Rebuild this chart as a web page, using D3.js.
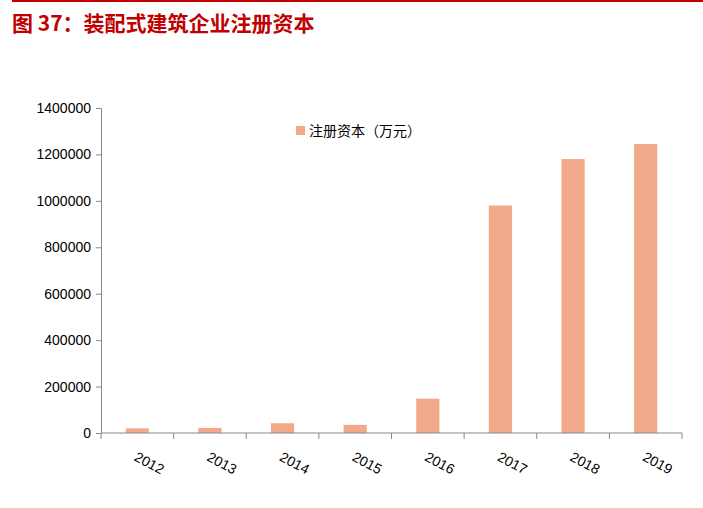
<!DOCTYPE html><html><head><meta charset="utf-8"><script src="https://cdn.jsdelivr.net/npm/d3@7"></script>
<style>body{margin:0;background:#fff}</style></head><body><svg id="c" width="703" height="508"></svg>
<script>
const categories=["2012","2013","2014","2015","2016","2017","2018","2019"];
const values=[20000,22000,42000,35000,148000,980000,1180000,1245000];
const yTicks=[0,200000,400000,600000,800000,1000000,1200000,1400000];
const seriesName="注册资本（万元）";
const svg=d3.select("#c");
const font="Arial, 'Liberation Sans', 'Noto Sans CJK SC', sans-serif";
svg.append("line").attr("x1",12).attr("x2",703).attr("y1",1).attr("y2",1).attr("stroke","#c00000").attr("stroke-width",2);
svg.append("text").attr("x",12).attr("y",31).attr("fill","#c00000").attr("font-size",21).attr("font-weight","bold").attr("font-family","'Noto Sans CJK SC', sans-serif").text("图 37：装配式建筑企业注册资本");
const x=d3.scaleBand().domain(categories).range([101,682]).paddingInner(0.68).paddingOuter(0.34);
const y=d3.scaleLinear().domain([0,1400000]).range([433,108]);
svg.selectAll("rect.b").data(values).enter().append("rect").attr("x",(d,i)=>x(categories[i])).attr("width",x.bandwidth()).attr("y",d=>y(d)).attr("height",d=>433-y(d)).attr("fill","#f2a98a");
const ya=svg.append("g").attr("transform","translate(101,0)").call(d3.axisLeft(y).tickValues(yTicks).tickFormat(d3.format("d")).tickSizeOuter(0).tickSize(5));
ya.selectAll("text").attr("font-size",14).attr("font-family",font).attr("fill","#000").attr("dx","-2");
ya.selectAll("line,path").attr("stroke","#888");
const step=(682-101)/categories.length;
const xa=svg.append("g").attr("transform","translate(0,433)");
xa.append("line").attr("x1",101).attr("x2",682).attr("stroke","#888");
d3.range(categories.length+1).forEach(i=>xa.append("line").attr("x1",101+i*step).attr("x2",101+i*step).attr("y2",6).attr("stroke","#888"));
categories.forEach((c,i)=>{
 const cx=x(c)+x.bandwidth()/2;
 xa.append("text").attr("transform",`translate(${cx-4},${27}) rotate(28)`).attr("font-size",14).attr("font-family",font).attr("fill","#000").text(c);
});
svg.append("rect").attr("x",296).attr("y",126).attr("width",9).attr("height",9).attr("fill","#f2a98a");
svg.append("text").attr("x",309).attr("y",136).attr("font-size",14).attr("font-family","'Noto Sans CJK SC', sans-serif").attr("fill","#000").text(seriesName);
</script></body></html>
